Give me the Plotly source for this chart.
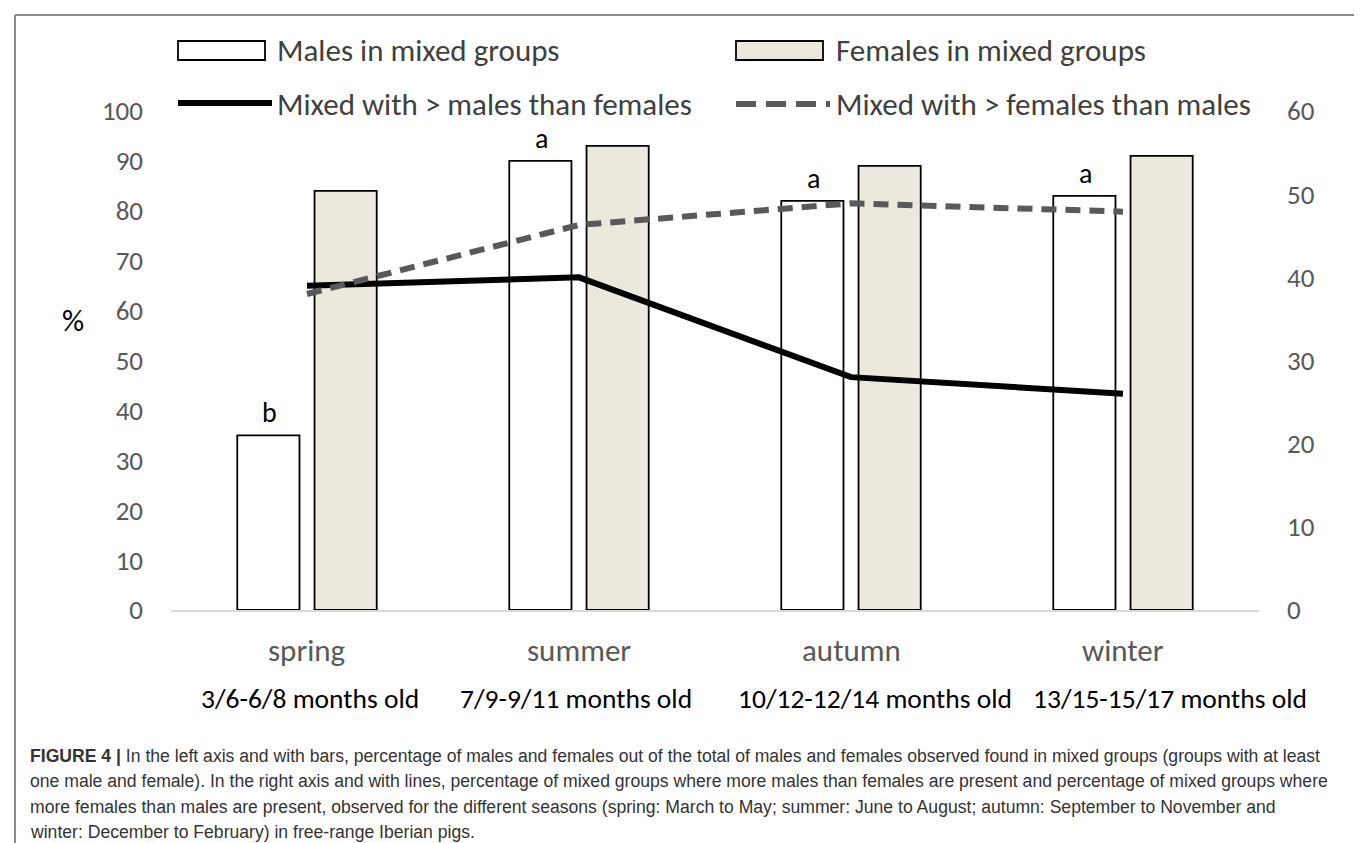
import plotly.graph_objects as go

# ---------------- data ----------------
seasons = ["spring", "summer", "autumn", "winter"]
age_labels = ["3/6-6/8 months old", "7/9-9/11 months old",
              "10/12-12/14 months old", "13/15-15/17 months old"]
males_pct = [35, 90, 82, 83]          # left axis, bars
females_pct = [84, 93, 89, 91]        # left axis, bars
more_males_pct = [39, 40, 28, 26]     # right axis, solid line
more_females_pct = [38, 46.3, 48.9, 47.9]  # right axis, dashed line
sig_letters = ["b", "a", "a", "a"]    # above male bars

legend_names = ["Males in mixed groups", "Females in mixed groups",
                "Mixed with > males than females", "Mixed with > females than males"]

caption_lines = [
    "<b>FIGURE 4 |</b> In the left axis and with bars, percentage of males and females out of the total of males and females observed found in mixed groups (groups with at least",
    "one male and female). In the right axis and with lines, percentage of mixed groups where more males than females are present and percentage of mixed groups where",
    "more females than males are present, observed for the different seasons (spring: March to May; summer: June to August; autumn: September to November and",
    "winter: December to February) in free-range Iberian pigs.",
]

# ---------------- layout constants (pixels) ----------------
W, H = 1362, 843
L, R, T, B = 163, 111, 103, 241
PW, PH = W - L - R, H - T - B
FONT = "Carlito, Calibri, Lato, sans-serif"
CAP_FONT = "Arial, 'Liberation Sans', Helvetica, sans-serif"
AGE_SHIFTS = [3, -3, 24, 47]   # pixel offsets of the age labels in the original


def px(x):
    return (x - L) / PW


def py(y):
    return (H - B - y) / PH


fig = go.Figure()

fig.add_trace(go.Bar(
    x=seasons, y=males_pct, name=legend_names[0], yaxis="y",
    marker=dict(color="#FFFFFF", line=dict(color="#000000", width=1.8)),
    showlegend=False,
))
fig.add_trace(go.Bar(
    x=seasons, y=females_pct, name=legend_names[1], yaxis="y",
    marker=dict(color="#EBE9DE", line=dict(color="#000000", width=1.8)),
    showlegend=False,
))
fig.add_trace(go.Scatter(
    x=seasons, y=more_males_pct, name=legend_names[2], yaxis="y2",
    mode="lines", line=dict(color="#000000", width=6),
    showlegend=False,
))
fig.add_trace(go.Scatter(
    x=seasons, y=more_females_pct, name=legend_names[3], yaxis="y2",
    mode="lines", line=dict(color="#595959", width=6, dash="15px,9px"),
    showlegend=False,
))

annotations = []
# significance letters
for s, v, t in zip(seasons, males_pct, sig_letters):
    annotations.append(dict(
        x=s, y=v, xref="x", yref="y", text=t, showarrow=False,
        xshift=-38, yshift=3, yanchor="bottom",
        font=dict(family=FONT, size=28, color="#000000"),
    ))
# category labels (two rows)
for s, a, sh in zip(seasons, age_labels, AGE_SHIFTS):
    annotations.append(dict(
        x=s, y=py(642), xref="x", yref="paper", text=s, showarrow=False,
        yanchor="middle", font=dict(family=FONT, size=31, color="#595959"),
    ))
    annotations.append(dict(
        x=s, y=py(690), xref="x", yref="paper", text=a, showarrow=False,
        xshift=sh, yanchor="middle",
        font=dict(family=FONT, size=27.5, color="#000000"),
    ))
# % axis title
annotations.append(dict(
    x=px(65), y=py(312), xref="paper", yref="paper", text="%", showarrow=False,
    xanchor="center", yanchor="middle",
    font=dict(family=FONT, size=31, color="#000000"),
))
# legend texts
leg_pos = [(267, 42), (826, 42), (267, 96), (826, 96)]
for name, (lx, ly) in zip(legend_names, leg_pos):
    annotations.append(dict(
        x=px(lx), y=py(ly), xref="paper", yref="paper", text=name, showarrow=False,
        xanchor="left", yanchor="middle",
        font=dict(family=FONT, size=31, color="#404040"),
    ))
# caption
cap_y = [748, 773, 799, 824]
for line, cy in zip(caption_lines, cap_y):
    annotations.append(dict(
        x=px(20), y=py(cy), xref="paper", yref="paper", text=line, showarrow=False,
        xanchor="left", yanchor="middle",
        font=dict(family=CAP_FONT, size=17.6, color="#333333"),
    ))

shapes = []
# legend symbols
shapes.append(dict(type="rect", xref="paper", yref="paper",
                   x0=px(170), x1=px(257), y0=py(33), y1=py(52),
                   fillcolor="#FFFFFF", line=dict(color="#000000", width=1.8)))
shapes.append(dict(type="rect", xref="paper", yref="paper",
                   x0=px(728), x1=px(815), y0=py(33), y1=py(52),
                   fillcolor="#EBE9DE", line=dict(color="#000000", width=1.8)))
shapes.append(dict(type="line", xref="paper", yref="paper",
                   x0=px(170), x1=px(264), y0=py(95), y1=py(95),
                   line=dict(color="#000000", width=6)))
shapes.append(dict(type="line", xref="paper", yref="paper",
                   x0=px(728), x1=px(822), y0=py(96), y1=py(96),
                   line=dict(color="#595959", width=6, dash="20px,10px")))
# outer frame (left, top, right)
frame = dict(color="#8C8C8C", width=2)
shapes.append(dict(type="line", xref="paper", yref="paper",
                   x0=px(7), x1=px(7), y0=py(7), y1=py(843), line=frame))
shapes.append(dict(type="line", xref="paper", yref="paper",
                   x0=px(7), x1=px(1356), y0=py(7), y1=py(7), line=frame))
shapes.append(dict(type="line", xref="paper", yref="paper",
                   x0=px(1356), x1=px(1356), y0=py(7), y1=py(843), line=frame))

axis_font = dict(family=FONT, size=27, color="#595959")

fig.update_layout(
    width=W, height=H,
    margin=dict(l=L, r=R, t=T, b=B, pad=0),
    paper_bgcolor="#FFFFFF", plot_bgcolor="#FFFFFF",
    barmode="group", bargap=0.432, bargroupgap=0.195,
    xaxis=dict(range=[-0.5, 3.5], showticklabels=False, showgrid=False,
               zeroline=False, showline=True, linecolor="#D9D9D9", linewidth=2,
               ticks=""),
    yaxis=dict(range=[0, 100], dtick=10, showgrid=False, zeroline=False,
               showline=False, ticks="", tickfont=axis_font,
               ticklabelstandoff=27),
    yaxis2=dict(range=[0, 60], dtick=10, showgrid=False, zeroline=False,
                showline=False, ticks="", tickfont=axis_font, overlaying="y",
                side="right", ticklabelstandoff=27),
    annotations=annotations,
    shapes=shapes,
    showlegend=False,
)

fig.write_html("out.html")
